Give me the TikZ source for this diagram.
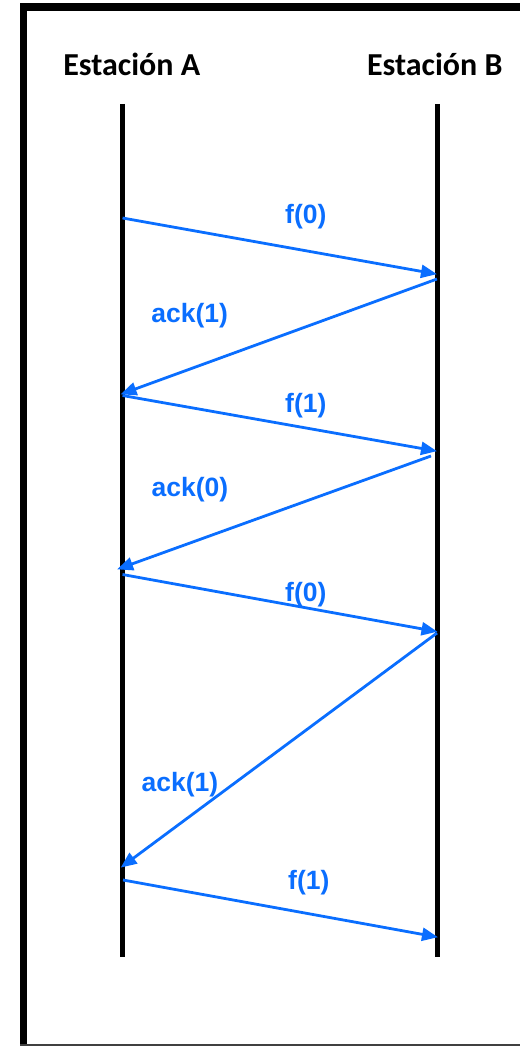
\documentclass[tikz,border=0pt]{standalone}
\usepackage{fontspec}
\setmainfont{Liberation Sans}
\newfontfamily\headfont{Carlito}
\usetikzlibrary{arrows.meta}
\definecolor{msgblue}{RGB}{10,110,255}
\tikzset{
  lifeline/.style={line width=5pt, black},
  msg/.style={line width=2.8pt, msgblue, -{Triangle[length=16pt,width=13pt]}, shorten >=-1pt},
  msglabel/.style={text=msgblue, font=\bfseries\fontsize{26.5}{30}\selectfont, inner sep=0pt},
  head/.style={font=\headfont\bfseries\fontsize{32}{36}\selectfont, inner sep=0pt}
}
\begin{document}
\begin{tikzpicture}[x=1pt,y=-1pt]
\useasboundingbox (0,0) rectangle (519,1046);
% frame
\draw[line width=7.5pt, black] (23.7,1046) -- (23.7,7) -- (525,7);
\draw[line width=2pt, black!75] (20,1045) -- (525,1045);
% headings
\node[head] (hA) at (131.7,64) {Estación A};
\node[head] (hB) at (434.7,64) {Estación B};
% lifelines
\coordinate (A0) at (122.5,104);
\coordinate (A9) at (122.5,957);
\coordinate (B0) at (437.5,104);
\coordinate (B9) at (437.5,957);
\draw[lifeline] (A0) -- (A9);
\draw[lifeline] (B0) -- (B9);
% message points
\coordinate (a1) at (122.5,218);
\coordinate (b1) at (436,274);
\coordinate (b2) at (437,279);
\coordinate (a2) at (121.5,394);
\coordinate (a3) at (122.5,395.5);
\coordinate (b3) at (436,451);
\coordinate (b4) at (431,456);
\coordinate (a4) at (118,569);
\coordinate (a5) at (122.5,574.5);
\coordinate (b5) at (436.5,631.5);
\coordinate (b6) at (437,633);
\coordinate (a6) at (121.5,867);
\coordinate (a7) at (123,880);
\coordinate (b7) at (437,937);
% messages
\draw[msg] (a1) -- (b1);
\draw[msg] (b2) -- (a2);
\draw[msg] (a3) -- (b3);
\draw[msg] (b4) -- (a4);
\draw[msg] (a5) -- (b5);
\draw[msg] (b6) -- (a6);
\draw[msg] (a7) -- (b7);
% labels
\node[msglabel] (l1) at (305.8,217) {f(0)};
\node[msglabel] (l2) at (189.7,315.5) {ack(1)};
\node[msglabel] (l3) at (305.8,405.5) {f(1)};
\node[msglabel] (l4) at (190,490) {ack(0)};
\node[msglabel] (l5) at (305.8,595) {f(0)};
\node[msglabel] (l6) at (180,785) {ack(1)};
\node[msglabel] (l7) at (308.8,883) {f(1)};
\end{tikzpicture}
\end{document}
